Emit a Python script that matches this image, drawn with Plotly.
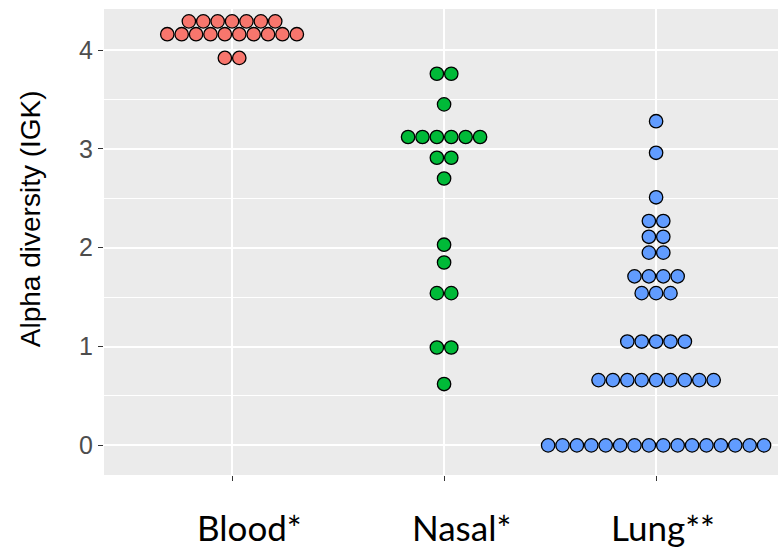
import plotly.graph_objects as go

# ---- data ----
categories = ["Blood", "Nasal", "Lung"]
tick_labels = ["Blood*", "Nasal*", "Lung**"]
colors = ["#F8766D", "#00BA38", "#619CFF"]

blood = [4.29, 4.29, 4.29, 4.29, 4.29, 4.29, 4.29,
         4.16, 4.16, 4.16, 4.16, 4.16, 4.16, 4.16, 4.16, 4.16, 4.16,
         3.92, 3.92]
nasal = [3.76, 3.76, 3.45,
         3.12, 3.12, 3.12, 3.12, 3.12, 3.12,
         2.91, 2.91, 2.70, 2.03, 1.85, 1.54, 1.54, 0.99, 0.99, 0.62]
lung = [3.28, 2.96, 2.51, 2.27, 2.27, 2.11, 2.11, 1.95, 1.95,
        1.71, 1.71, 1.71, 1.71, 1.54, 1.54, 1.54,
        1.05, 1.05, 1.05, 1.05, 1.05,
        0.66, 0.66, 0.66, 0.66, 0.66, 0.66, 0.66, 0.66, 0.66,
        0.0, 0.0, 0.0, 0.0, 0.0, 0.0, 0.0, 0.0, 0.0, 0.0, 0.0, 0.0, 0.0, 0.0, 0.0, 0.0]
series = [blood, nasal, lung]

y_ticks = [0, 1, 2, 3, 4]
y_title = "Alpha diversity (IGK)"

# ---- layout geometry ----
W, H = 778, 550
ML, MR, MT, MB = 104, 0, 9, 75
x_range = [-0.604, 2.575]
y_range = [-0.30, 4.415]
dot_step = 0.0679  # horizontal spacing between stacked dots (data units)


def centered_stack(values, center):
    """ggplot-like centered dot stacking: identical values spread horizontally."""
    xs = []
    counts = {}
    for v in values:
        counts[v] = counts.get(v, 0) + 1
    seen = {}
    for v in values:
        k = seen.get(v, 0)
        seen[v] = k + 1
        n = counts[v]
        xs.append(center + (k - (n - 1) / 2) * dot_step)
    return xs


fig = go.Figure()
for i, (vals, col, name) in enumerate(zip(series, colors, categories)):
    fig.add_trace(go.Scatter(
        x=centered_stack(vals, i), y=vals, mode="markers", name=name,
        marker=dict(size=13.4, color=col, line=dict(color="black", width=1.3)),
        showlegend=False, hoverinfo="y"))

label_shift = [17, 17.5, 7]
annotations = []
for i, lab in enumerate(tick_labels):
    annotations.append(dict(
        x=i, xref="x", y=0, yref="paper", yanchor="middle", xanchor="center",
        yshift=-52, xshift=label_shift[i], showarrow=False, text=lab,
        font=dict(family="Lato", size=35, color="black")))
annotations.append(dict(
    x=0, xref="paper", xshift=-74, y=0.549, yref="paper", xanchor="center",
    yanchor="middle", textangle=-90, showarrow=False, text=y_title,
    font=dict(family="Liberation Sans", size=28, color="black")))

fig.update_layout(
    width=W, height=H,
    margin=dict(l=ML, r=MR, t=MT, b=MB, pad=0),
    paper_bgcolor="white", plot_bgcolor="#EBEBEB",
    annotations=annotations,
    xaxis=dict(range=x_range, tickvals=[0, 1, 2], ticktext=["", "", ""],
               showgrid=True, gridcolor="white", gridwidth=2, zeroline=False,
               ticks="outside", ticklen=5, tickwidth=1.3, tickcolor="#333333",
               showline=False),
    yaxis=dict(range=y_range, tickvals=y_ticks, ticktext=[str(t) for t in y_ticks],
               showgrid=True, gridcolor="white", gridwidth=2, zeroline=False,
               ticks="outside", ticklen=5, tickwidth=1.3, tickcolor="#333333",
               tickfont=dict(family="Liberation Sans", size=25, color="#4D4D4D"),
               minor=dict(dtick=0.5, tick0=0, showgrid=True, gridcolor="white",
                          gridwidth=1, ticks=""),
               showline=False),
)

fig.write_html("out.html")
